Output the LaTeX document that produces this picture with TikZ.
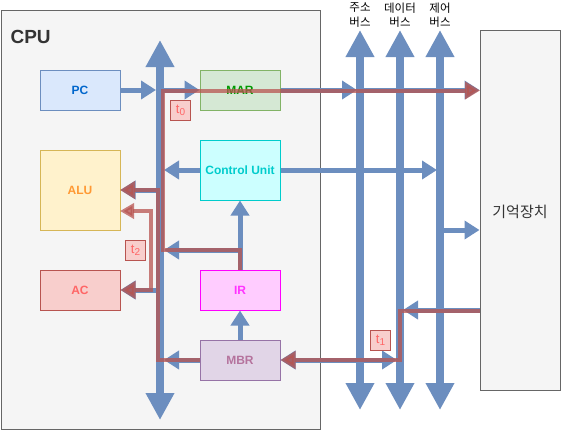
\documentclass[tikz,border=0pt]{standalone}
\usepackage{fontspec}
\setmainfont{Liberation Sans}
\newfontfamily\kr{Noto Sans CJK KR}
\usetikzlibrary{arrows.meta}
\definecolor{busblue}{HTML}{6C8EBF}
\definecolor{redc}{HTML}{B85450}
\definecolor{cpufill}{HTML}{F5F5F5}
\definecolor{greyline}{HTML}{666666}
\definecolor{darktext}{HTML}{333333}
\definecolor{pcfill}{HTML}{DAE8FC}\definecolor{pctext}{HTML}{0066CC}
\definecolor{marfill}{HTML}{D5E8D4}\definecolor{marline}{HTML}{82B366}\definecolor{martext}{HTML}{009900}
\definecolor{cufill}{HTML}{CCFFFF}\definecolor{culine}{HTML}{00CCCC}
\definecolor{alufill}{HTML}{FFF2CC}\definecolor{aluline}{HTML}{D6B656}\definecolor{alutext}{HTML}{FF9933}
\definecolor{acfill}{HTML}{F8CECC}\definecolor{actext}{HTML}{FF6666}
\definecolor{irfill}{HTML}{FFCCFF}\definecolor{irline}{HTML}{FF00FF}\definecolor{irtext}{HTML}{FF33FF}
\definecolor{mbrfill}{HTML}{E1D5E7}\definecolor{mbrline}{HTML}{9673A6}\definecolor{mbrtext}{HTML}{B5739D}
\newcommand{\tstep}[1]{t\raisebox{-2.5pt}{\fontsize{10}{10}\selectfont #1}}
\begin{document}
\begin{tikzpicture}[x=1pt,y=-1pt,
  regbox/.style={draw, line width=1pt, inner sep=0pt, minimum width=80pt, minimum height=40pt,
    font=\bfseries\fontsize{12}{14}\selectfont},
  bus/.style={line width=8pt, busblue, {Triangle[length=27pt,width=27pt]}-{Triangle[length=27pt,width=27pt]}},
  arr/.style={line width=5pt, busblue, -{Triangle[length=15pt,width=18pt]}},
  arrboth/.style={line width=5pt, busblue, {Triangle[length=15pt,width=18pt]}-{Triangle[length=15pt,width=18pt]}},
  redp/.style={line width=4pt, redc, opacity=0.75, line join=miter, -{Triangle[length=15pt,width=17pt]}},
  redboth/.style={line width=4pt, redc, opacity=0.75, line join=miter, {Triangle[length=14pt,width=15pt]}-{Triangle[length=15pt,width=17pt]}},
  tlabel/.style={draw=redc, fill=acfill, line width=1pt, text=actext, minimum width=20pt, minimum height=20pt,
    inner sep=0pt, font=\fontsize{13}{14}\selectfont},
  buslabel/.style={align=center, font=\kr\fontsize{11.5}{14.5}\selectfont, text=black}
]
\useasboundingbox (0,0) rectangle (562,434);
% frames
\node[draw=greyline, fill=cpufill, line width=1pt, minimum width=319pt, minimum height=419pt, inner sep=0pt] (cpu) at (160.5,220) {};
\node[anchor=base west, text=darktext, font=\bfseries\fontsize{19}{22}\selectfont] (cpulabel) at (7,43) {CPU};
\node[draw=greyline, fill=cpufill, line width=1pt, minimum width=80pt, minimum height=360pt, inner sep=0pt] (Mem) at (520,210) {};
\node[text=darktext, font=\kr\fontsize{15}{18}\selectfont] (memlabel) at (520,212) {기억장치};
% bus labels
\node[buslabel] (la) at (360,15) {주소\\버스};
\node[buslabel] (ld) at (400,15) {데이터\\버스};
\node[buslabel] (lc) at (440,15) {제어\\버스};
% registers
\node[regbox, draw=busblue, fill=pcfill, text=pctext] (PC) at (80,90) {PC};
\node[regbox, draw=marline, fill=marfill, text=martext] (MAR) at (240,90) {MAR};
\node[regbox, draw=culine, fill=cufill, text=culine, minimum height=60pt] (CU) at (240,170) {Control Unit};
\node[regbox, draw=aluline, fill=alufill, text=alutext, minimum height=80pt] (ALU) at (80,190) {ALU};
\node[regbox, draw=redc, fill=acfill, text=actext] (AC) at (80,290) {AC};
\node[regbox, draw=irline, fill=irfill, text=irtext] (IR) at (240,290) {IR};
\node[regbox, draw=mbrline, fill=mbrfill, text=mbrtext] (MBR) at (240,360) {MBR};
% bus coordinates
\coordinate (ibT) at (160,40); \coordinate (ibB) at (160,420);
\coordinate (abT) at (360,30); \coordinate (abB) at (360,410);
\coordinate (dbT) at (400,30); \coordinate (dbB) at (400,410);
\coordinate (cbT) at (440,30); \coordinate (cbB) at (440,410);
\draw[bus] (ibB) -- (ibT);
\draw[bus] (abB) -- (abT);
\draw[bus] (dbB) -- (dbT);
\draw[bus] (cbB) -- (cbT);
% connector coordinates
\coordinate (bPC) at (156,90);
\coordinate (bMAR) at (160,90);
\coordinate (aMAR) at (357,90);
\coordinate (aMem) at (360,90);
\coordinate (bCU) at (164,170);
\coordinate (cCU) at (437,170);
\coordinate (bALU) at (160,190);
\coordinate (bAC) at (160,290);
\coordinate (irj) at (240,250);
\coordinate (bIR) at (164,250);
\coordinate (bMBR) at (164,360);
\coordinate (dMBR) at (397,360);
\coordinate (mD) at (480,310);
\coordinate (dMem) at (403,310);
\coordinate (cMem) at (440,230);
% blue arrows
\draw[arr] (PC.east) -- (bPC);
\draw[arr] (bMAR) -- (MAR.west);
\draw[arr] (MAR.east) -- (aMAR);
\draw[arr] (aMem) -- (aMem -| Mem.west);
\draw[arr] (CU.west) -- (bCU);
\draw[arr] (CU.east) -- (cCU);
\draw[arr] (bALU) -- (bALU -| ALU.east);
\draw[arr] (bAC) -- (AC.east);
\draw[arr] (IR.north) -- (CU.south);
\draw[arr] (irj) -- (bIR);
\draw[arr] (MBR.north) -- (IR.south);
\draw[arr] (MBR.west) -- (bMBR);
\draw[arrboth] (MBR.east) -- (dMBR);
\draw[arr] (mD) -- (dMem);
\draw[arr] (cMem) -- (cMem -| Mem.west);
% red paths
\coordinate (r1a) at (163,250); \coordinate (r1b) at (163,90.5); \coordinate (r1c) at (480,90.5);
\draw[redp] (IR.north) -- (irj) -- (r1a) -- (r1b) -- (r1c);
\coordinate (r2a) at (158,360); \coordinate (r2b) at (158,190); \coordinate (r2c) at (120,190);
\draw[redp] (MBR.west) -- (r2a) -- (r2b) -- (r2c);
\coordinate (r3a) at (120,211); \coordinate (r3b) at (151,211); \coordinate (r3c) at (151,290);
\draw[redboth] (r3a) -- (r3b) -- (r3c) -- (AC.east);
\coordinate (r4a) at (480,311); \coordinate (r4b) at (400,311); \coordinate (r4c) at (400,360);
\draw[redp] (r4a) -- (r4b) -- (r4c) -- (MBR.east);
% step labels
\node[tlabel] (t0) at (180.5,110.5) {\tstep{0}};
\node[tlabel] (t2) at (135.5,250.5) {\tstep{2}};
\node[tlabel] (t1) at (380.5,340.5) {\tstep{1}};
\end{tikzpicture}
\end{document}
